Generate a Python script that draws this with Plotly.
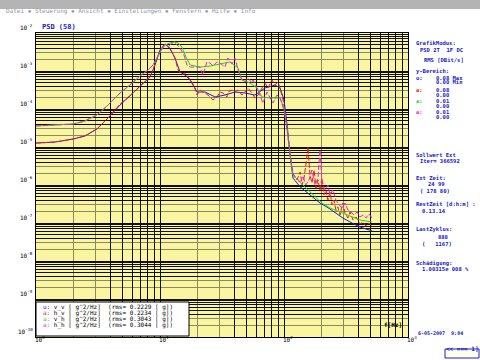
import plotly.graph_objects as go

# ---------------- data ----------------
freq_v_v = [1.0, 1.42, 1.99, 2.48, 3.10, 3.81, 4.76, 6.06, 7.29, 8.30, 9.12, 10.0, 11.0, 12.0,
            13.2, 14.5, 15.9, 17.5, 19.9, 23.1, 27.8, 33.4, 40.3, 48.4, 58.3, 70.3, 84.6, 92.9,
            100, 106, 112, 118, 135, 162, 195, 222, 258, 299, 353, 410, 458, 513]
psd_v_v = [1.27e-5, 1.35e-5, 1.62e-5, 1.95e-5, 2.98e-5, 5.8e-5, 1.27e-4, 2.64e-4, 4.83e-4, 6.95e-4,
           1.44e-3, 3.57e-3, 5.14e-3, 4.03e-3, 2.2e-3, 9.4e-4, 7.85e-4, 5.8e-4, 2.8e-4, 2.8e-4,
           2.07e-4, 2.33e-4, 2.8e-4, 2.64e-4, 2.33e-4, 3.57e-4, 4.28e-4, 3.57e-4, 1.73e-4, 3.8e-5,
           6.2e-6, 1.53e-6, 8.9e-7, 5.46e-7, 3.36e-7, 2.64e-7, 1.83e-7, 1.35e-7, 1.0e-7, 7.85e-8,
           6.95e-8, 6.2e-8]

freq_h_v = [1.0, 1.42, 1.99, 2.48, 3.10, 3.81, 4.76, 6.06, 7.29, 8.30, 8.78, 9.46, 10.4, 11.0,
            11.6, 12.5, 13.2, 14.0, 15.0, 15.9, 16.8, 18.1, 19.1, 19.9, 21.0, 22.2, 24.4, 26.7,
            28.8, 30.5, 32.2, 34.7, 35.3, 38.1, 40.3, 42.6, 45.8, 48.4, 51.3, 55.2, 58.3, 61.7,
            66.5, 70.3, 74.3, 80.0, 84.6, 89.5, 92.9, 98.2, 104, 108, 112, 116, 120,
            127, 135, 140, 145, 150, 156, 162, 168, 175, 181, 188, 195, 202, 210, 218, 226,
            235, 244, 253, 262, 272, 283, 299, 310, 328, 341, 360, 381, 410, 434, 458, 484, 513]
psd_h_v = [1.27e-5, 1.35e-5, 1.62e-5, 1.95e-5, 2.98e-5, 5.8e-5, 1.35e-4, 2.64e-4, 4.83e-4, 6.95e-4,
           1.06e-3, 2.2e-3, 4.03e-3, 5.14e-3, 4.28e-3, 3.16e-3, 2.2e-3, 1.06e-3, 7.85e-4, 8.9e-4,
           6.95e-4, 5.14e-4, 3.57e-4, 2.33e-4, 3.16e-4, 2.8e-4, 2.33e-4, 1.73e-4, 2.07e-4, 2.8e-4,
           2.64e-4, 2.07e-4, 2.8e-4, 3.16e-4, 2.8e-4, 3.16e-4, 2.33e-4, 2.8e-4, 3.57e-4, 2.64e-4,
           1.95e-4, 2.33e-4, 3.57e-4, 4.83e-4, 3.57e-4, 5.8e-4, 4.28e-4, 5.14e-4, 3.57e-4, 1.73e-4,
           5.14e-5, 1.53e-5, 6.2e-6, 2.8e-6, 1.73e-6,
           1.35e-6, 2.2e-6, 1.0e-6, 1.53e-6, 3.36e-6, 1.0e-5, 1.83e-6, 1.13e-6, 2.48e-6, 8.3e-7,
           1.35e-6, 7.4e-7, 1.53e-6, 5.46e-7, 7.4e-7, 4.03e-7, 6.5e-7, 2.98e-7, 4.03e-7, 2.2e-7,
           2.64e-7, 1.62e-7, 3.36e-7, 1.83e-7, 1.35e-7, 1.95e-7, 1.2e-7, 1.44e-7, 9.4e-8, 1.06e-7,
           8.3e-8, 1.0e-7, 8.3e-8]

freq_v_h = [1.0, 1.42, 1.99, 2.48, 3.10, 3.81, 4.76, 5.73, 6.90, 8.0, 8.78, 10.0, 11.0, 12.0,
            13.0, 14.0, 15.0, 16.2, 17.5, 21.0, 25.3, 30.5, 36.7, 42.6, 45.8, 53.2, 60.5, 66.5,
            77.1, 92.9, 100, 106, 112, 118, 142, 171, 202, 235, 299, 353, 410, 513]
psd_v_h = [3.57e-5, 3.8e-5, 4.03e-5, 4.83e-5, 6.95e-5, 1.27e-4, 2.64e-4, 4.28e-4, 7.4e-4, 1.06e-3,
           1.44e-3, 3.16e-3, 4.83e-3, 5.46e-3, 5.8e-3, 5.46e-3, 4.28e-3, 2.33e-3, 1.44e-3, 1.27e-3,
           1.35e-3, 1.53e-3, 1.73e-3, 1.2e-3, 5.8e-4, 4.83e-4, 3.57e-4, 2.07e-4, 1.95e-4, 1.95e-4,
           1.06e-4, 2.8e-5, 6.2e-6, 1.83e-6, 1.0e-6, 5.46e-7, 3.36e-7, 2.48e-7, 1.83e-7, 1.44e-7,
           1.2e-7, 1.06e-7]

freq_h_h = [1.0, 1.42, 1.99, 2.48, 3.10, 3.81, 4.76, 5.73, 6.90, 8.0, 8.78, 9.46, 10.4, 11.0,
            11.6, 12.0, 12.7, 13.5, 14.5, 15.6, 16.5, 17.5, 19.1, 21.0, 22.2, 23.9, 25.3, 26.7,
            28.8, 30.5, 33.4, 35.3, 38.1, 40.3, 42.6, 45.8, 48.4, 51.3, 55.2, 56.2, 60.5, 64.0,
            67.7, 72.9, 77.1, 81.5, 87.8, 92.9, 100, 106, 112, 116, 120,
            127, 135, 142, 150, 159, 168, 178, 188, 195, 202, 214, 226, 235, 248, 262, 278, 294,
            310, 328, 347, 367, 388, 410, 434, 458, 484, 513]
psd_h_h = [3.57e-5, 3.8e-5, 4.03e-5, 4.83e-5, 6.95e-5, 1.27e-4, 2.64e-4, 4.28e-4, 7.4e-4, 1.06e-3,
           1.44e-3, 2.2e-3, 4.03e-3, 5.14e-3, 4.28e-3, 4.83e-3, 5.46e-3, 5.14e-3, 4.03e-3, 2.64e-3,
           1.44e-3, 1.27e-3, 1.27e-3, 1.27e-3, 7.85e-4, 1.73e-3, 1.62e-3, 1.35e-3, 1.73e-3, 1.62e-3,
           1.27e-3, 2.2e-3, 1.53e-3, 2.2e-3, 1.06e-3, 5.8e-4, 5.14e-4, 6.5e-4, 4.83e-4, 5.8e-4,
           3.57e-4, 2.33e-4, 1.44e-4, 2.8e-4, 2.07e-4, 1.44e-4, 2.33e-4, 1.95e-4, 9.4e-5, 2.8e-5,
           6.2e-6, 2.8e-6, 1.83e-6,
           1.53e-6, 1.13e-6, 1.73e-6, 1.0e-6, 1.35e-6, 2.48e-6, 1.0e-6, 1.53e-6, 8.3e-6, 1.35e-6,
           7.4e-7, 1.0e-6, 5.46e-7, 7.4e-7, 4.03e-7, 2.98e-7, 2.48e-7, 3.36e-7, 2.2e-7, 1.95e-7,
           1.62e-7, 1.95e-7, 1.44e-7, 1.62e-7, 1.35e-7, 1.73e-7, 1.35e-7]

series_names = ["v_v", "h_v", "v_h", "h_h"]
series_prefix = ["u:", "a:", "a:", "a:"]
series_rms = ["0.2229", "0.2234", "0.3043", "0.3044"]
series_colors = ["#1818E8", "#F41818", "#18D818", "#F018F0"]
series_dash = ["solid", "5px,2px", "solid", "5px,2px"]

x_tick_exponents = [0, 1, 2, 3]
y_tick_exponents = [-2, -3, -4, -5, -6, -7, -8, -9, -10]

ybereich_max = ["0.08", "0.08", "0.01", "0.01"]
ybereich_min = ["0.00", "0.00", "0.00", "0.00"]

# ---------------- figure ----------------
W, H = 480, 360
ML, MR, MT, MB = 36, 72, 33, 23
PW, PH = W - ML - MR, H - MT - MB


def px(x):
    return (x - ML) / PW


def py(y):
    return (H - MB - y) / PH


BLUE = "#2020C8"
MONO = "DejaVu Sans Mono"

fig = go.Figure()
all_f = [freq_v_v, freq_h_v, freq_v_h, freq_h_h]
all_p = [psd_v_v, psd_h_v, psd_v_h, psd_h_h]
for f, p, c, n, d in zip(all_f, all_p, series_colors, series_names, series_dash):
    fig.add_trace(go.Scatter(x=f, y=p, mode="lines", line=dict(color=c, width=1, dash=d),
                             name=n, showlegend=False, hoverinfo="skip"))

# grid values: k*10^n
major_k = [1, 4, 5, 6, 7, 8, 9]
minor_k = [2, 3]
x_major = [k * 10 ** e for e in range(0, 3) for k in major_k] + [1000]
x_minor = [k * 10 ** e for e in range(0, 3) for k in minor_k]
y_major = [k * 10.0 ** e for e in range(-10, -2) for k in major_k] + [1e-2]
y_minor = [k * 10.0 ** e for e in range(-10, -2) for k in minor_k]

axis_common = dict(type="log", tickmode="array", showticklabels=False, showgrid=True,
                   gridcolor="#101010", gridwidth=1, showline=True, linecolor="black",
                   linewidth=1, mirror=True, ticks="")
fig.update_xaxes(range=[0, 3], tickvals=x_major,
                 minor=dict(tickmode="array", tickvals=x_minor, showgrid=True,
                            gridcolor="#8a8a60", gridwidth=1, ticks=""), **axis_common)
fig.update_yaxes(range=[-10, -2], tickvals=y_major,
                 minor=dict(tickmode="array", tickvals=y_minor, showgrid=True,
                            gridcolor="#8a8a60", gridwidth=1, ticks=""), **axis_common)

ann = []
# axis labels
for e in x_tick_exponents:
    ann.append(dict(x=e, xref="x", y=0, yref="paper", yshift=-8, xshift=4,
                    text="10<sup>%d</sup>" % e, showarrow=False,
                    font=dict(family=MONO, size=6, color="black"), xanchor="center"))
for e in y_tick_exponents:
    ann.append(dict(x=0, xref="paper", y=e, yref="y", xshift=-1, yshift=6,
                    text="10<sup>%d</sup>" % e, showarrow=False,
                    font=dict(family=MONO, size=6, color="black"), xanchor="right"))

shapes = []
# menu bar
shapes.append(dict(type="rect", xref="paper", yref="paper", x0=px(0), x1=px(480),
                   y0=py(9), y1=py(0), fillcolor="#B4B4B4", line=dict(width=0), layer="above"))
ann.append(dict(x=px(4), y=py(4.5), xref="paper", yref="paper", xanchor="left",
                text="Datei \u25aa Steuerung \u25aa Ansicht \u25aa Einstellungen \u25aa Fenstern \u25aa Hilfe \u25aa Info",
                showarrow=False, font=dict(family=MONO, size=6, color="#9090B0")))
# title
ann.append(dict(x=px(40), y=py(21), xref="paper", yref="paper", xanchor="left",
                text="<b>PSD (58)</b>", showarrow=False, font=dict(family=MONO, size=7, color=BLUE)))

# legend box
shapes.append(dict(type="rect", xref="paper", yref="paper", x0=px(36), x1=px(189),
                   y0=py(336), y1=py(302), fillcolor="white", line=dict(color="black", width=1),
                   layer="above"))
row_y = [312.5, 318.5, 324.5, 330.5]
for i in range(4):
    t = ('<span style="color:%s">%s</span> %s [ g^2/Hz]  (rms= %s [ g])'
         % (series_colors[i], series_prefix[i], series_names[i], series_rms[i]))
    ann.append(dict(x=px(41), y=py(row_y[i]), xref="paper", yref="paper", xanchor="left",
                    text=t.replace("  ", "\u00a0\u00a0"), showarrow=False,
                    font=dict(family=MONO, size=6, color="black")))

# right panel
def rtext(x, y, s, color=BLUE, size=5.5):
    ann.append(dict(x=px(x), y=py(y), xref="paper", yref="paper", xanchor="left",
                    yanchor="middle", text="<b>%s</b>" % s.replace(" ", "\u00a0"),
                    showarrow=False, font=dict(family=MONO, size=size, color=color)))

rtext(414, 43, "GrafikModus:")
rtext(418, 50, "PSD 2T  1F DC")
rtext(422, 60, "RMS [DBit/s]")
rtext(414, 71, "y-Bereich:")
rows = [78, 90, 101, 112]
for i in range(4):
    rtext(414, rows[i], series_prefix[i] if i == 0 else "a:", series_colors[i])
    rtext(434, rows[i], ybereich_max[i] + (" Max" if i == 0 else ""))
    rtext(434, rows[i] + 4.5, ybereich_min[i] + (" Min" if i == 0 else ""))
rtext(414, 155, "Sollwert Ext")
rtext(418, 161, "Iter= 366592")
rtext(414, 178, "Ext Zeit:")
rtext(426, 184, "24 99")
rtext(418, 191, "( 178 80)")
rtext(414, 204, "RestZeit [d:h:m] :")
rtext(420, 211, "0.13.14")
rtext(414, 229, "LastZyklus:")
rtext(436, 237, "880")
rtext(420, 244, "(   1167)")
rtext(414, 263, "Schädigung:")
rtext(420, 269, "1.00315e 008 %")
rtext(416, 333, "6-05-2007  9:04", size=5)

# f[Hz]
ann.append(dict(x=px(404), y=py(330), xref="paper", yref="paper", xanchor="right",
                text="<b>f[Hz]</b>", showarrow=False, font=dict(family=MONO, size=6, color="black")))

# button bottom right
shapes.append(dict(type="rect", xref="paper", yref="paper", x0=px(445), x1=px(479),
                   y0=py(358), y1=py(349), fillcolor="#FFFFE8", line=dict(color=BLUE, width=1),
                   layer="above"))
ann.append(dict(x=px(462), y=py(353.5), xref="paper", yref="paper", xanchor="center",
                text="<b>&lt;&lt;\u00a0===\u00a01]</b>", showarrow=False,
                font=dict(family=MONO, size=6, color=BLUE)))

fig.update_layout(width=W, height=H, autosize=False,
                  margin=dict(l=ML, r=MR, t=MT, b=MB, pad=0),
                  paper_bgcolor="white", plot_bgcolor="#FAF5A0",
                  annotations=ann, shapes=shapes, showlegend=False)

fig.write_html("out.html", config={"displayModeBar": False},
               post_script="document.body.style.margin='0';document.body.style.padding='0';")
